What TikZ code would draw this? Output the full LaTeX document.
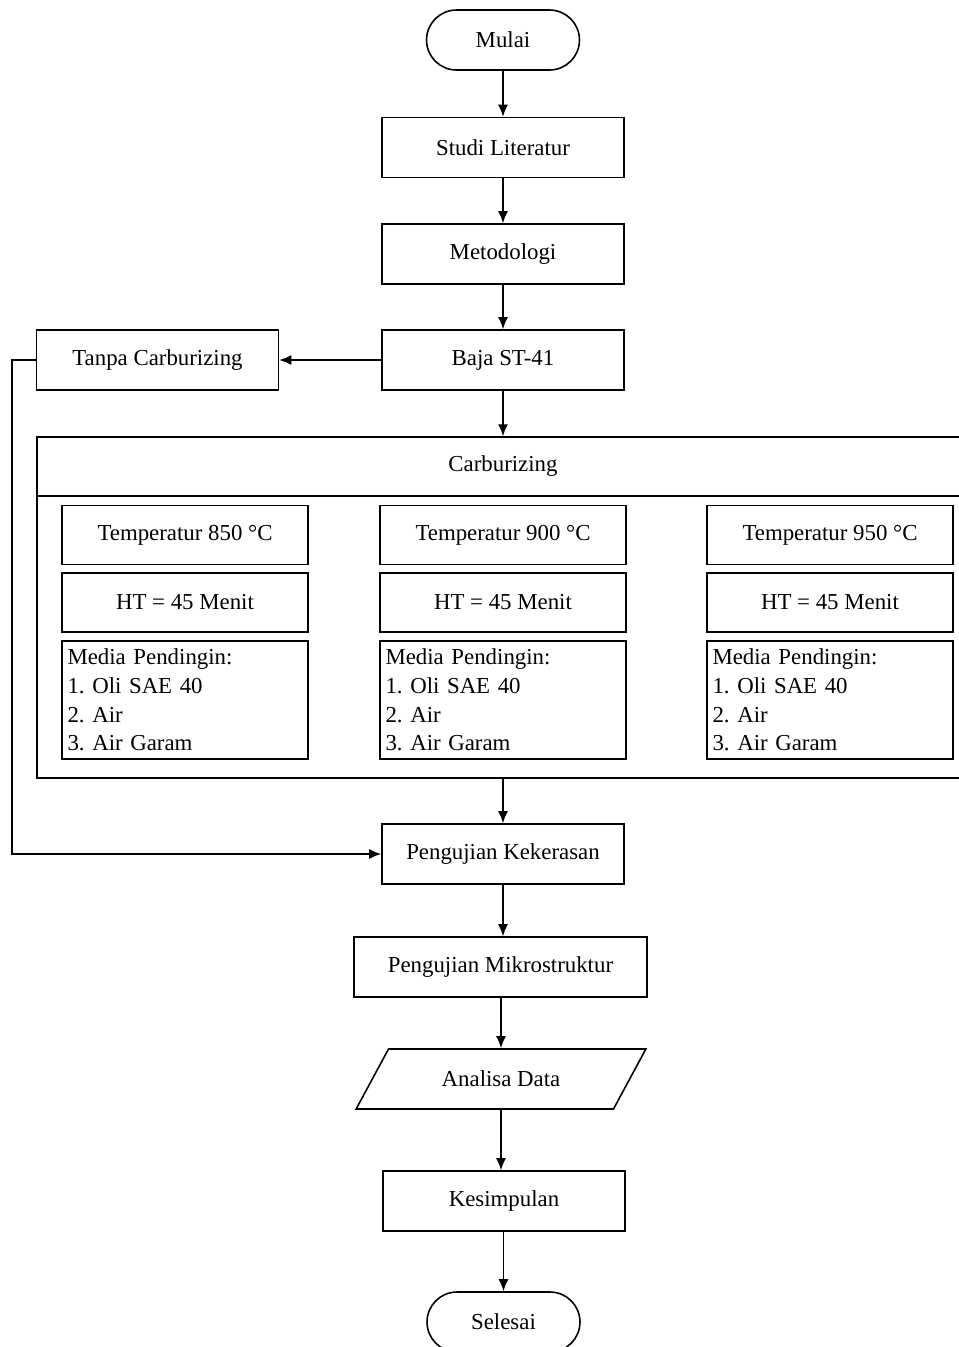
\documentclass[tikz,border=0pt]{standalone}
\usepackage{fontspec}
\setmainfont{Liberation Serif}
\usepackage{tikz}
\usetikzlibrary{arrows.meta, calc, positioning, shapes.geometric}
\frenchspacing
\tikzset{%
  every path/.style={line width=0.9pt},
    edge/.style={%
        ->,
        >={Latex[length=2.4mm, width=2mm]},
    },
    terminal/.style={%
        rectangle,
        draw=black,
        minimum width=3.06cm,
        minimum height=1.2cm,
        rounded corners=0.6cm,
        font=\fontsize{13}{16}\selectfont,
        text centered,
    },
    process/.style={%
        rectangle,
        draw=black,
        minimum width=4.84cm,
        minimum height=1.2cm,
        font=\fontsize{13}{16}\selectfont,
        text centered,
    },
    subproc/.style={%
        rectangle,
        draw=black,
        minimum width=4.92cm,
        minimum height=1.18cm,
        font=\fontsize{13}{16}\selectfont,
        text centered,
    },
    media/.style={%
        rectangle,
        draw=black,
        minimum width=4.92cm,
        minimum height=2.36cm,
        text width=4.7cm,
        inner xsep=0.1cm,
        align=left,
        font=\fontsize{13}{16.4}\selectfont,
    },
    inout/.style={%
        trapezium,
        draw=black,
        trapezium stretches=true,
        trapezium left angle=56,
        trapezium right angle=124,
        minimum width=5.84cm,
        minimum height=1.2cm,
        font=\fontsize{13}{16}\selectfont,
        text centered,
    },
}
\begin{document}
\begin{tikzpicture}[x=0.02cm, y=-0.02cm]
	\useasboundingbox (0,0) rectangle (958,1347);

	\node [terminal] at (503, 40) (mulai) {Mulai};
	\node [process] at (503, 147.5) (studi) {Studi Literatur};
	\node [process] at (503, 254) (metode) {Metodologi};
	\node [process] at (503, 360) (baja) {Baja ST-41};
	\node [process] at (157.5, 360) (tanpa) {Tanpa Carburizing};

	% carburizing group
	\node [rectangle, draw=black, minimum width=18.76cm, minimum height=6.82cm] at (506, 607.5) (carb) {};
	\coordinate (head_l) at (37, 496);
	\draw (head_l) -- (head_l -| carb.east);
	\node [font=\fontsize{13}{16}\selectfont] at (503, 466) (carb_title) {Carburizing};

	\node [subproc] at (185, 535) (temp1) {Temperatur 850 °C};
	\node [subproc] at (185, 602.5) (ht1) {HT = 45 Menit};
	\node [media] at (185, 700) (media1) {Media Pendingin:\\1. Oli SAE 40\\2. Air\\3. Air Garam};

	\node [subproc] at (503, 535) (temp2) {Temperatur 900 °C};
	\node [subproc] at (503, 602.5) (ht2) {HT = 45 Menit};
	\node [media] at (503, 700) (media2) {Media Pendingin:\\1. Oli SAE 40\\2. Air\\3. Air Garam};

	\node [subproc] at (830, 535) (temp3) {Temperatur 950 °C};
	\node [subproc] at (830, 602.5) (ht3) {HT = 45 Menit};
	\node [media] at (830, 700) (media3) {Media Pendingin:\\1. Oli SAE 40\\2. Air\\3. Air Garam};

	\node [process] at (503, 854) (uji_keras) {Pengujian Kekerasan};
	\node [process, minimum width=5.86cm] at (500.5, 967) (uji_mikro) {Pengujian Mikrostruktur};
	\node [inout] at (501, 1079) (analisa) {Analisa Data};
	\node [process] at (504, 1201) (simpulan) {Kesimpulan};
	\node [terminal] at (503.5, 1322) (selesai) {Selesai};

	\coordinate (bend) at (12, 360);

	\draw[edge] (mulai) -- (studi);
	\draw[edge] (studi) -- (metode);
	\draw[edge] (metode) -- (baja);
	\draw[edge] (baja) -- (tanpa);
	\draw[edge] (baja) -- (baja.south |- carb.north);
	\draw[edge] (uji_keras.north |- carb.south) -- (uji_keras);
	\draw[edge] (tanpa.west) -- (bend) |- (uji_keras.west);
	\draw[edge] (uji_keras) -- (uji_keras.south |- uji_mikro.north);
	\draw[edge] (uji_mikro.south -| analisa.north) -- (analisa.north);
	\draw[edge] (analisa.south) -- (analisa.south |- simpulan.north);
	\draw[edge] (simpulan.south -| selesai.north) -- (selesai.north);
\end{tikzpicture}
\end{document}
